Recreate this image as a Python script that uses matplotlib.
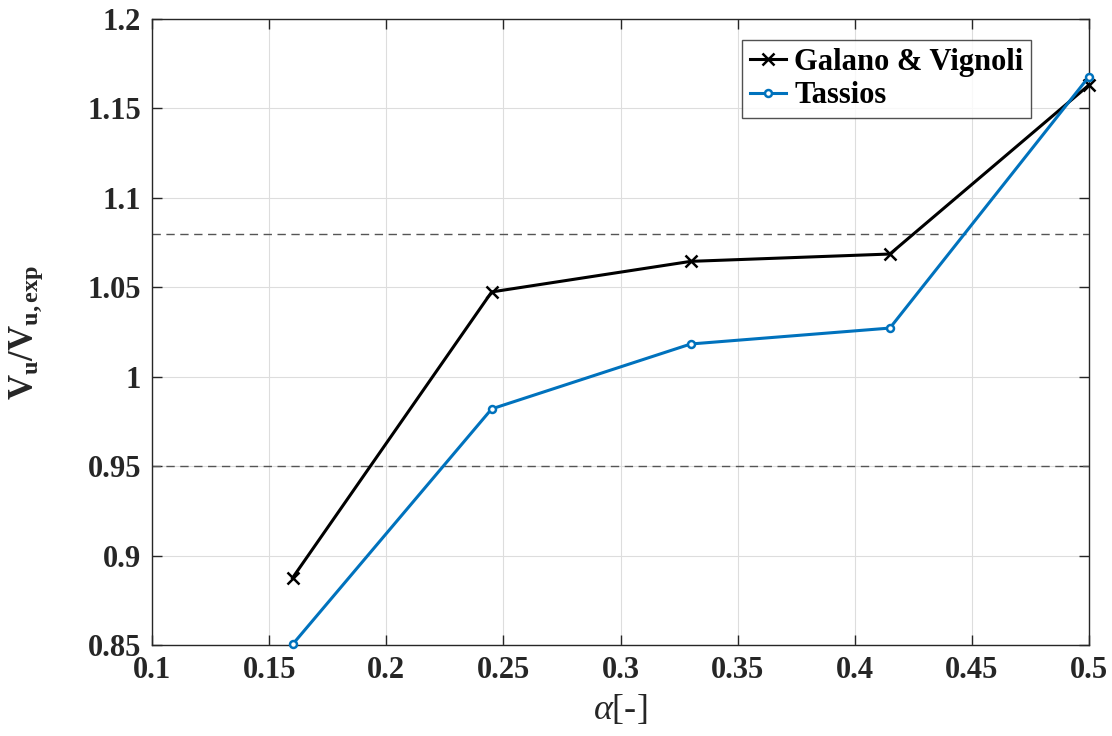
import matplotlib.pyplot as plt

plt.rcParams['font.family'] = ['Liberation Serif', 'DejaVu Serif']
plt.rcParams['mathtext.fontset'] = 'custom'
plt.rcParams['mathtext.rm'] = 'Liberation Serif:bold'
plt.rcParams['mathtext.it'] = 'Liberation Serif:italic'
plt.rcParams['mathtext.bf'] = 'Liberation Serif:bold'

# data
alpha = [0.16, 0.245, 0.33, 0.415, 0.5]
galano = [0.8875, 1.0474, 1.0645, 1.0686, 1.1631]
tassios = [0.8503, 0.9820, 1.0183, 1.0272, 1.1678]
limits = [1.08, 0.95]

x_ticks = [0.1, 0.15, 0.2, 0.25, 0.3, 0.35, 0.4, 0.45, 0.5]
y_ticks = [0.85, 0.9, 0.95, 1.0, 1.05, 1.1, 1.15, 1.2]

fig = plt.figure(figsize=(11.12, 7.36), dpi=100)
ax = fig.add_axes([152 / 1112, 1 - 645 / 736, (1089 - 152) / 1112, (645 - 19) / 736])

for lim in limits:
    ax.axhline(lim, color='#555555', linestyle=(0, (6, 4)), linewidth=1.0, zorder=1)

ax.plot(alpha, galano, color='black', marker='x', markersize=8, markeredgewidth=1.8,
        linewidth=2.2, label='Galano & Vignoli', clip_on=False, zorder=3)
ax.plot(alpha, tassios, color='#0072BD', marker='o', markersize=5, markerfacecolor='white',
        markeredgewidth=1.8, linewidth=2.2, label='Tassios', clip_on=False, zorder=3)

ax.set_xlim(0.1, 0.5)
ax.set_ylim(0.85, 1.2)
ax.set_xticks(x_ticks)
ax.set_yticks(y_ticks)
ax.set_xticklabels(['0.1', '0.15', '0.2', '0.25', '0.3', '0.35', '0.4', '0.45', '0.5'])
ax.set_yticklabels(['0.85', '0.9', '0.95', '1', '1.05', '1.1', '1.15', '1.2'])
ax.tick_params(direction='in', length=7, width=1, colors='#262626', labelsize=22,
               top=True, right=True, pad=8)
for lbl in ax.get_xticklabels() + ax.get_yticklabels():
    lbl.set_fontweight('bold')
for s in ax.spines.values():
    s.set_color('#262626')
    s.set_linewidth(1)

ax.grid(True, color='#dddddd', linewidth=0.8)
ax.set_axisbelow(True)

ax.set_xlabel(r'$\mathit{\alpha}$[-]', fontsize=26, color='#262626', labelpad=6)
ax.set_ylabel(r'$\mathbf{V_u/V_{u,exp}}$', fontsize=25, color='#262626', labelpad=30)

leg = ax.legend(loc='upper right', bbox_to_anchor=((1031 - 152) / 937, 1 - 21 / 626),
                prop={'weight': 'bold', 'size': 22}, frameon=True, fancybox=False,
                handlelength=1.2, handletextpad=0.25, borderpad=0.25, labelspacing=0.15,
                borderaxespad=0)
leg.get_frame().set_edgecolor('#262626')
leg.get_frame().set_linewidth(1)

fig.savefig('out.png', dpi=100)
